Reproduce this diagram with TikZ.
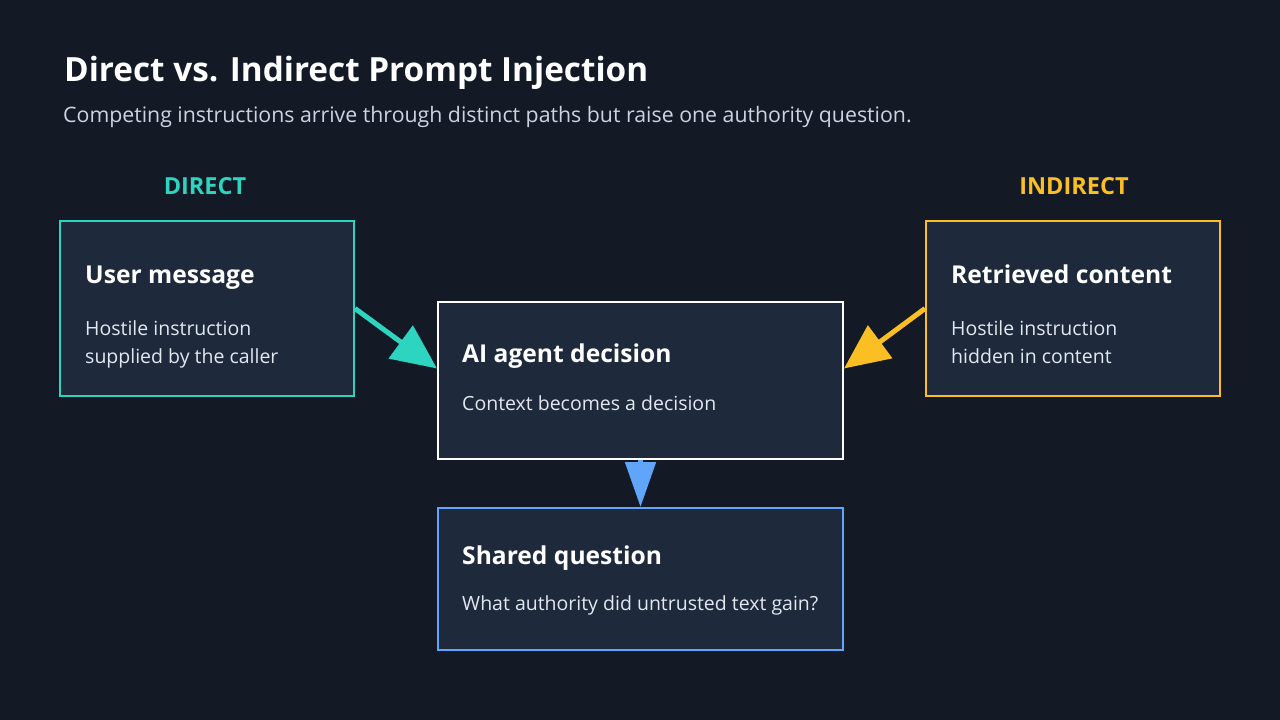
\documentclass[tikz,border=0pt]{standalone}
\usepackage{fontspec}
\setmainfont{Open Sans}
\usetikzlibrary{arrows.meta,calc}
\definecolor{bgcol}{HTML}{131A26}
\definecolor{boxfill}{HTML}{1E293B}
\definecolor{tealc}{HTML}{2DD4BF}
\definecolor{amberc}{HTML}{FBBF24}
\definecolor{bluec}{HTML}{60A5FA}
\definecolor{subtxt}{HTML}{CBD5E1}
\definecolor{bodytxt}{HTML}{E2E8F0}
\begin{document}
\begin{tikzpicture}[x=1pt,y=-1pt]
\tikzstyle{every node}=[inner sep=0pt,text=white]
\tikzstyle{box}=[draw,line width=2pt,fill=boxfill,rectangle]
\tikzstyle{boxtitle}=[anchor=base west,font=\fontsize{24.6}{28}\selectfont\bfseries]
\tikzstyle{boxbody}=[anchor=base west,text=bodytxt,font=\fontsize{19.5}{23}\selectfont]
\tikzstyle{flow}=[line width=5pt,-{Triangle[length=45pt,width=40pt]}]
\fill[bgcol] (0,0) rectangle (1280,720);
\useasboundingbox (0,0) rectangle (1280,720);
% heading
\node[anchor=base west,font=\fontsize{33.3}{38}\selectfont\bfseries](title) at (64,81) {Direct vs. Indirect Prompt Injection};
\node[anchor=base west,text=subtxt,font=\fontsize{21.3}{25}\selectfont](subtitle) at (63,122) {Competing instructions arrive through distinct paths but raise one authority question.};
\node[text=tealc,font=\fontsize{23.5}{27}\selectfont\bfseries](lbldirect) at (205,186) {DIRECT};
\node[text=amberc,font=\fontsize{23.5}{27}\selectfont\bfseries](lblindirect) at (1074,186) {INDIRECT};
% boxes
\node[box,draw=tealc,minimum width=294pt,minimum height=175pt](user) at (207,308.5) {};
\node[box,draw=white,minimum width=405pt,minimum height=157pt](agent) at (640.5,380.5) {};
\node[box,draw=amberc,minimum width=294pt,minimum height=175pt](retr) at (1073,308.5) {};
\node[box,draw=bluec,minimum width=405pt,minimum height=142pt](shared) at (640.5,579) {};
% texts
\node[boxtitle](usert) at (85,283) {User message};
\node[boxbody](userb1) at (85,335) {Hostile instruction};
\node[boxbody](userb2) at (85,363) {supplied by the caller};
\node[boxtitle](agentt) at (462,362) {AI agent decision};
\node[boxbody](agentb) at (462,410) {Context becomes a decision};
\node[boxtitle](retrt) at (951,283) {Retrieved content};
\node[boxbody](retrb1) at (951,335) {Hostile instruction};
\node[boxbody](retrb2) at (951,363) {hidden in content};
\node[boxtitle](sharedt) at (462,564) {Shared question};
\node[boxbody](sharedb) at (462,610) {What authority did untrusted text gain?};
% connectors
\draw[flow,tealc] (user.east) -- ($(agent.west)+(0,-12)$);
\draw[flow,amberc] (retr.west) -- ($(agent.east)+(0,-12)$);
\draw[flow,bluec,-{Triangle[length=45pt,width=30pt]}] (agent.south) -- (shared.north);
\end{tikzpicture}
\end{document}
